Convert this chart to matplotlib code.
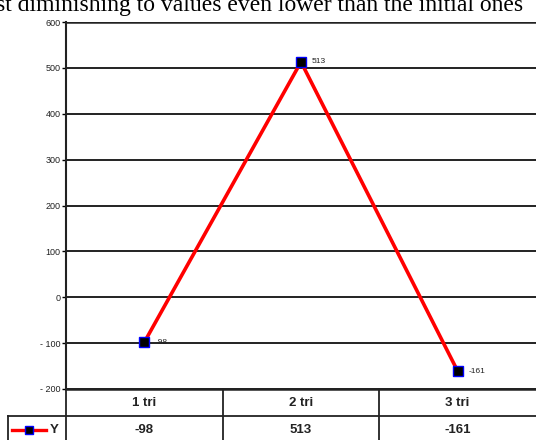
import matplotlib
matplotlib.use('Agg')
import matplotlib.pyplot as plt
from matplotlib.lines import Line2D

# data
categories = ['1 tri', '2 tri', '3 tri']
values = [-98, 513, -161]
series_name = 'Y'
yticks = [-200, -100, 0, 100, 200, 300, 400, 500, 600]
caption = 'st diminishing to values even lower than the initial ones'

W, H = 536, 440
fig = plt.figure(figsize=(W / 100, H / 100), dpi=100)

# plot area in pixels
left, right, top, bottom = 66, 536, 22, 389
ax = fig.add_axes([left / W, 1 - bottom / H, (right - left) / W, (bottom - top) / H])

x = list(range(len(categories)))
ax.plot(x, values, color='red', lw=2.6, zorder=3, solid_capstyle='butt')
ax.plot(x, values, ls='none', marker='s', ms=6.5, mfc='black', mec='blue', mew=1.0, zorder=4)
for xi, v in zip(x, values):
    ax.annotate(str(v), (xi, v), xytext=(8, 0), textcoords='offset points',
                ha='left', va='center', fontsize=6, family='Liberation Sans', color='#222222')

ax.set_xlim(-0.5, len(categories) - 0.5)
ax.set_ylim(-200, 600)
ax.set_yticks(yticks)
ax.set_yticklabels([str(t).replace('-', '- ') for t in yticks], fontsize=6.5,
                   family='Liberation Sans', color='#222222')
ax.set_xticks([])
ax.tick_params(axis='y', length=3, width=1, direction='out', pad=1)
for t in yticks:
    ax.axhline(t, color='#222222', lw=1.4 if t != 600 else 1.8, zorder=1)
for s in ['top', 'right', 'bottom']:
    ax.spines[s].set_visible(False)
ax.spines['left'].set_linewidth(1.5)
ax.spines['left'].set_color('#222222')

# table under the chart
def fx(px):
    return px / W

def fy(py):
    return 1 - py / H

lc = '#222222'
row1, row2 = 389, 416
col_edges = [left + (right - left) * i / len(categories) for i in range(len(categories) + 1)]
fig.add_artist(Line2D([fx(left), fx(right)], [fy(row1), fy(row1)], color=lc, lw=1.8))
fig.add_artist(Line2D([fx(8), fx(right)], [fy(row2), fy(row2)], color=lc, lw=1.3))
fig.add_artist(Line2D([fx(8), fx(8)], [fy(row2), fy(H)], color=lc, lw=1.3))
for ce in col_edges[:-1]:
    fig.add_artist(Line2D([fx(ce), fx(ce)], [fy(row1), fy(H)], color=lc, lw=1.3))

for i, (c, v) in enumerate(zip(categories, values)):
    cx = (col_edges[i] + col_edges[i + 1]) / 2
    fig.text(fx(cx), fy(403), c, ha='center', va='center', fontsize=9.5,
             fontweight='bold', family='Liberation Sans', color='#222222')
    fig.text(fx(cx), fy(430), str(v), ha='center', va='center', fontsize=9.5,
             fontweight='bold', family='Liberation Sans', color='#222222')

# legend key in the first cell
ky = fy(430)
fig.add_artist(Line2D([fx(12), fx(46)], [ky, ky], color='red', lw=2.4))
fig.add_artist(Line2D([fx(29)], [ky], ls='none', marker='s', ms=6, mfc='black', mec='blue', mew=1.0))
fig.text(fx(50), ky, series_name, ha='left', va='center', fontsize=9.5, fontweight='bold',
         family='Liberation Sans', color='#222222')

# cut-off caption at the top
fig.text(fx(-4), fy(11), caption, ha='left', va='baseline', fontsize=17,
         family='Liberation Serif', color='black')

fig.savefig('out.png', dpi=100)
